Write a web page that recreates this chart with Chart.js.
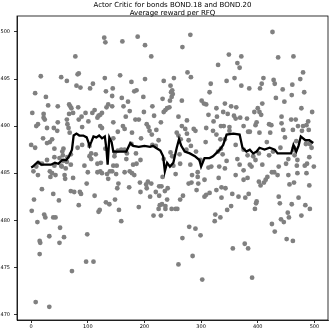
<!DOCTYPE html>
<html>
<head>
<meta charset="utf-8">
<script src="https://cdn.jsdelivr.net/npm/chart.js@4"></script>
<style>
  html, body { margin: 0; padding: 0; background: #fff; }
  #wrap { width: 332px; height: 332px; }
</style>
</head>
<body>
<div id="wrap"><canvas id="chart-reward" width="332" height="332"></canvas></div>
<script>
// reward per RFQ, one dot per episode [episode, reward]
const rewardPoints = [
  [129,499.4],[131,498.9],[78,497.4],[84,495.6],[82,495.5],[17,495.3],[53,495.2],[130,495.1],[63,494.8],[109,494.5],
  [80,494.3],[87,494.1],[104,494.0],[7,493.5],[132,493.7],[144,494.0],[26,493.1],[143,493.2],[67,492.3],[30,492.2],
  [47,492.1],[69,492.1],[71,491.9],[83,492.0],[136,492.3],[133,492.0],[143,492.1],[2,491.4],[96,491.4],[108,491.4],
  [112,491.7],[74,491.4],[67,491.3],[22,491.3],[122,491.2],[125,491.4],[22,490.9],[117,490.9],[119,491.1],[24,490.7],
  [63,490.7],[12,490.2],[9,490.0],[47,490.4],[89,491.0],[101,490.5],[84,490.7],[64,490.2],[28,489.8],[40,489.8],
  [122,490.0],[125,489.8],[90,489.9],[46,489.5],[66,489.8],[68,489.3],[21,488.7],[37,488.6],[28,488.2],[33,488.3],
  [0,488.0],[7,487.7],[82,487.7],[41,487.6],[90,488.0],[103,487.9],[131,487.6],[57,487.6],[55,487.3],[70,487.0],
  [106,487.1],[56,486.9],[103,486.8],[41,486.7],[114,487.0],[64,486.7],[50,486.6],[28,486.4],[106,486.5],[147,486.8],
  [57,486.3],[63,486.2],[19,486.0],[70,485.9],[117,486.0],[53,485.8],[123,486.1],[145,485.8],[41,485.8],[54,485.7],
  [13,486.1],[94,485.8],[9,485.7],[61,485.5],[4,485.2],[33,485.2],[117,485.1],[122,485.2],[139,485.2],[143,485.2],
  [100,485.1],
  [12,484.8],[34,484.6],[37,485.0],[43,484.8],[59,484.8],[60,484.4],[74,484.5],[125,485.0],[134,484.9],[136,484.4],
  [98,483.9],[19,483.3],[70,483.1],[76,483.0],[86,483.0],[88,482.8],[39,482.8],[112,482.6],[5,482.2],[49,482.1],
  [132,481.9],[138,481.7],[1,481.0],[23,480.6],[25,480.3],[39,480.3],[43,480.3],[11,479.8],[51,479.2],[32,478.3],
  [58,478.2],[99,478.5],[15,477.8],[16,477.6],[50,477.6],[15,476.4],[97,475.6],[110,475.6],[72,474.6],[8,471.3],
  [32,470.8],[84,481.6],[121,481.1],[119,480.9],
  [188,499.5],[281,499.7],[161,499.0],[201,498.6],[267,498.4],[212,497.4],[330,496.5],[276,495.7],[282,495.2],[157,495.4],
  [201,495.0],[234,494.8],[177,494.7],[252,495.1],[246,494.3],[317,494.5],[186,493.8],[182,493.7],[249,493.8],[247,493.6],
  [250,493.4],[315,493.6],[198,493.1],[160,493.0],[248,493.1],[232,492.9],[245,492.7],[266,492.7],[301,492.7],[305,492.4],
  [309,492.3],[171,492.6],[163,492.1],[214,492.1],[244,492.0],[240,491.9],[237,491.7],[234,491.5],[199,491.5],[174,491.6],
  [327,491.9],[339,491.5],[217,491.1],[167,491.0],[313,491.2],[260,491.0],[328,491.0],[184,490.7],[190,490.7],[275,490.6],
  [322,490.5],[145,490.4],[229,490.4],[204,490.2],[266,490.0],[287,489.7],[272,489.7],[309,489.8],[162,490.0],[165,489.7],
  [207,489.9],[209,489.5],[221,489.6],[321,489.5],[335,490.0],[340,490.0],[153,489.4],[178,489.3],[213,489.1],[257,489.3],
  [260,489.0],[275,489.2],[290,489.5],[327,489.1],[145,488.7],[194,488.7],[225,488.5],[264,488.6],[278,488.5],[308,488.3],
  [334,488.6],[177,488.1],[214,488.0],[220,487.9],[153,487.4],[159,487.5],[165,487.5],[148,487.2],[169,487.1],[282,487.9],
  [274,487.5],[335,487.6],[330,487.3],[338,487.0],[185,487.1],[246,487.2],[249,486.8],[262,487.0],[234,486.5],[291,487.3],
  [299,486.4],[168,486.5],[193,486.4],[263,486.0],[281,485.9],[151,485.8],[180,485.9],[186,486.0],[318,485.7],[313,485.6],
  [332,485.7],[251,485.8],[174,485.2],[165,485.1],[294,485.1],[342,492.4],[342,488.6],[342,485.5],
  [150,484.9],[182,484.8],[178,485.0],[232,484.6],[255,484.9],[284,484.8],[294,484.6],[306,484.3],[331,484.5],[154,483.9],
  [152,483.4],[173,483.5],[192,484.0],[203,483.8],[206,484.1],[212,483.9],[204,483.4],[220,483.0],[226,483.6],[230,483.6],
  [241,483.4],[236,483.1],[193,483.0],[210,482.5],[226,482.6],[268,482.6],[263,482.2],[240,482.2],[278,483.9],[283,484.0],
  [295,483.9],[292,483.2],[306,482.5],[309,482.7],[315,482.9],[327,483.2],[336,483.5],[343,483.4],[148,482.2],[155,481.1],
  [159,479.9],[190,481.4],[216,480.5],[227,481.6],[231,481.7],[225,481.2],[229,480.5],[237,481.5],[237,481.2],[248,481.2],
  [255,481.2],[258,481.2],[325,480.6],[324,479.9],[334,480.3],[279,479.3],[290,479.1],[299,478.4],[267,478.1],[285,476.2],
  [260,475.3],[302,473.7],[336,482.4],
  [426,500.0],[349,497.6],[371,497.4],[436,497.3],[463,497.4],[364,496.7],[368,496.2],[480,495.7],[345,494.8],[359,495.1],
  [410,495.1],[428,494.9],[475,495.0],[407,494.5],[430,494.5],[371,494.3],[385,494.0],[404,494.0],[444,493.9],[461,494.4],
  [482,493.6],[460,493.3],[432,493.0],[447,492.6],[353,492.1],[362,492.0],[408,492.4],[400,491.9],[403,491.5],[477,491.9],
  [394,491.5],[496,491.5],[347,491.3],[358,491.1],[361,490.8],[369,490.9],[406,491.2],[442,491.0],[459,490.7],[467,490.7],
  [381,490.8],[398,490.4],[396,490.1],[420,490.2],[424,490.1],[442,490.3],[489,490.5],[471,490.0],[480,490.0],[486,490.1],
  [350,489.9],[375,490.0],[383,489.4],[386,489.4],[445,489.6],[462,489.6],[478,489.5],[490,489.6],[350,489.5],[403,489.3],
  [422,489.3],[448,488.8],[361,488.0],[416,488.3],[485,488.1],[492,488.1],[468,488.4],[375,487.5],[427,487.3],[440,487.7],
  [464,487.7],[466,487.4],[495,487.7],[382,486.9],[392,486.8],[402,487.1],[420,486.9],[396,486.4],[364,486.5],[454,486.5],
  [465,486.9],[470,486.4],[491,486.7],[345,486.3],[386,485.9],[389,485.7],[408,485.9],[437,485.7],[450,486.0],[469,485.8],
  [483,485.8],[487,486.0],[499,485.7],[368,485.9],[375,485.3],[425,485.1],[429,485.1],
  [361,484.8],[375,484.3],[382,484.5],[402,484.1],[405,483.7],[411,484.0],[414,484.3],[417,484.6],[435,484.8],[454,484.8],
  [456,483.8],[464,484.0],[470,485.0],[486,485.0],[491,483.7],[355,482.8],[366,482.5],[378,482.4],[384,482.8],[437,482.5],
  [439,481.8],[472,482.4],[398,482.0],[397,481.8],[353,481.5],[346,481.1],[395,481.2],[460,481.7],[484,481.6],[492,481.2],
  [453,480.8],[455,480.3],[477,480.5],[441,480.1],[446,479.8],[425,479.6],[430,478.8],[451,478.0],[462,477.8],[377,477.5],
  [383,477.0],[356,477.0],[390,473.9]
];

// running average of the reward
const avgEpisode = [0,3,8,12,18,25,35,42,48,55,62,67,72,75,80,85,92,98,101,103,106,110,115,120,125,130,133,135,138,142,
  145,150,160,168,175,180,190,200,210,215,220,228,233,236,240,245,251,257,261,265,271,280,289,297,300,306,315,321,333,339,
  345,357,368,373,380,386,392,398,403,412,421,430,435,450,459,463,468,472,476,484,491,498];
const avgReward = [485.6,485.7,486.0,486.2,485.9,485.9,485.9,486.1,486.0,486.4,486.4,486.8,487.5,489.0,489.2,489.0,489.0,488.8,488.3,487.9,488.3,488.9,488.8,489.0,488.7,488.9,487.5,485.9,488.8,488.3,
  487.3,487.3,487.3,487.3,488.2,487.9,487.8,487.9,487.8,487.9,487.7,487.4,486.8,485.2,486.1,485.7,486.1,487.7,488.6,487.9,487.3,487.1,486.8,486.4,485.7,486.6,486.6,486.8,487.5,488.0,
  489.1,489.2,489.1,487.7,487.3,487.5,487.1,487.3,487.7,487.5,487.7,487.5,487.1,487.1,487.1,488.0,487.3,487.9,488.9,488.5,488.5,488.2];

const xTicks = [0, 100, 200, 300, 400, 500];
const yTicks = [470, 475, 480, 485, 490, 495, 500];

const titleLines = ['Actor Critic for bonds BOND.18 and BOND.20', 'Average reward per RFQ'];

// box round the axes + title centred over the plot, like matplotlib
const frameBox = {
  id: 'frameBox',
  afterDraw(chart) {
    const a = chart.chartArea;
    const ctx = chart.ctx;
    ctx.save();
    ctx.strokeStyle = '#000';
    ctx.lineWidth = 0.8;
    ctx.strokeRect(a.left, a.top, a.right - a.left, a.bottom - a.top);
    ctx.fillStyle = '#000';
    ctx.font = '7px "DejaVu Sans"';
    ctx.textAlign = 'center';
    ctx.textBaseline = 'middle';
    const cx = (a.left + a.right) / 2;
    titleLines.forEach((t, i) => ctx.fillText(t, cx, 5.3 + i * 8));
    ctx.restore();
  }
};

const tickFont = { family: 'DejaVu Sans', size: 5 };

new Chart(document.getElementById('chart-reward'), {
  type: 'scatter',
  data: {
    datasets: [{
      label: 'average',
      type: 'line',
      data: avgEpisode.map((e, i) => ({ x: e, y: avgReward[i] })),
      borderColor: '#000',
      borderWidth: 2.3,
      pointRadius: 0,
      tension: 0,
      fill: false,
      order: 0
    }, {
      label: 'reward',
      data: rewardPoints.map(p => ({ x: p[0], y: p[1] })),
      backgroundColor: '#808080',
      borderWidth: 0,
      pointRadius: 2.4,
      order: 1
    }]
  },
  options: {
    responsive: false,
    animation: false,
    layout: { padding: { left: 0, right: 3, top: 16, bottom: 0 } },
    plugins: {
      legend: { display: false },
      tooltip: { enabled: false },
      title: { display: false }
    },
    scales: {
      x: {
        type: 'linear',
        min: -25,
        max: 524,
        afterFit: s => { s.height = 12; },
        afterBuildTicks: s => { s.ticks = xTicks.map(v => ({ value: v })); },
        ticks: { color: '#000', font: tickFont, padding: 1, maxRotation: 0 },
        grid: { display: true, drawOnChartArea: false, drawTicks: true, tickLength: 3, color: '#000', lineWidth: 0.8 },
        border: { display: true, color: '#000', width: 0.8 }
      },
      y: {
        type: 'linear',
        min: 469.4,
        max: 501.7,
        afterFit: s => { s.width = 17; },
        afterBuildTicks: s => { s.ticks = yTicks.map(v => ({ value: v })); },
        ticks: { color: '#000', font: tickFont, padding: 4 },
        grid: { display: true, drawOnChartArea: false, drawTicks: true, tickLength: 3, color: '#000', lineWidth: 0.8 },
        border: { display: true, color: '#000', width: 0.8 }
      }
    }
  },
  plugins: [frameBox]
});
</script>
</body>
</html>
